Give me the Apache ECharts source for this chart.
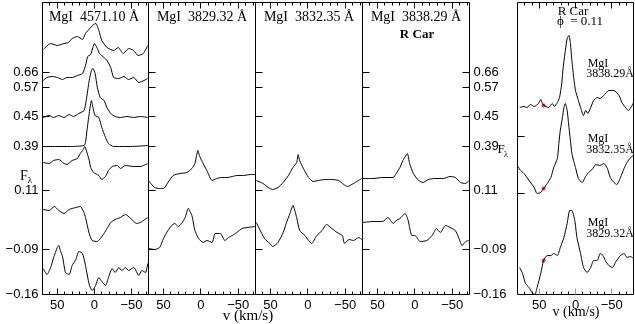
<!DOCTYPE html>
<html>
<head>
<meta charset="utf-8">
<script src="https://cdn.jsdelivr.net/npm/echarts@6/dist/echarts.min.js"></script>
<style>
  html, body { margin: 0; padding: 0; background: #fff; }
  #chart { width: 635px; height: 324px; }
</style>
</head>
<body>
<div id="chart"></div>
<script>
  // phase labels on the flux axis and where each sits (flux offset units)
  const phaseLabels = ['0.66', '0.57', '0.45', '0.39', '0.11', '−0.09', '−0.16'];
  const phaseTicks = [222, 207, 178, 148, 104, 45, 0];
  const rcarTicks = [158, 101];
  const vLabels = [50, 0, -50];
  const vTicks = [-70, -60, -50, -40, -30, -20, -10, 0, 10, 20, 30, 40, 50, 60, 70];

  // MgI 4571.10 A, one profile per phase  [v (km/s), F]
  const m4571_066 = [[69,245],[59,251],[50,249],[41,251],[35,252],[30,256],[23,258],[16,255],[12,261],[5,267],[1,270],[-2,271],[-6,264],[-10,254],[-17,247],[-26,244],[-32,247],[-39,241],[-46,246],[-53,244],[-59,239],[-66,241],[-72,249]];
  const m4571_057 = [[69,214],[64,217],[57,218],[50,217],[43,215],[37,217],[30,217],[23,219],[16,221],[12,229],[9,238],[5,240],[2,247],[0,251],[-4,246],[-7,241],[-13,237],[-17,234],[-22,227],[-26,217],[-33,216],[-40,218],[-46,215],[-53,217],[-60,212],[-67,214],[-72,216]];
  const m4571_045 = [[69,177],[61,179],[55,177],[48,179],[41,177],[34,180],[28,178],[21,181],[14,184],[11,194],[7,214],[4,224],[2,226],[-1,221],[-4,207],[-8,197],[-13,194],[-17,187],[-22,181],[-28,178],[-35,177],[-44,178],[-53,177],[-62,178],[-72,177]];
  const m4571_039 = [[69,148],[52,148],[32,148],[14,149],[12,152],[10,164],[7,181],[5,191],[4,194],[2,187],[-1,179],[-6,177],[-10,167],[-15,157],[-19,151],[-26,148],[-49,148],[-72,149]];
  const m4571_011 = [[69,132],[61,131],[55,134],[48,135],[41,131],[37,130],[30,134],[23,136],[19,141],[15,145],[13,148],[10,142],[7,134],[5,127],[1,122],[-6,119],[-10,115],[-15,118],[-19,124],[-24,128],[-31,129],[-35,126],[-42,129],[-53,128],[-62,128],[-72,131]];
  const m4571_m009 = [[69,85],[61,84],[54,88],[48,84],[41,81],[34,85],[25,87],[19,88],[14,82],[12,77],[7,61],[3,54],[-4,53],[-8,56],[-13,61],[-17,66],[-22,72],[-28,75],[-35,77],[-42,80],[-49,76],[-57,71],[-62,72],[-72,77]];
  const m4571_m016 = [[69,26],[64,20],[59,27],[55,37],[50,47],[48,49],[46,44],[43,38],[39,22],[34,20],[30,29],[25,35],[21,43],[16,41],[12,29],[7,10],[3,4],[-1,8],[-6,17],[-10,13],[-15,9],[-19,17],[-24,26],[-28,22],[-33,27],[-37,24],[-42,27],[-46,24],[-53,27],[-60,19],[-64,24],[-69,22],[-72,31]];

  // MgI 3829.32, 3832.35, 3838.29 A at phases 0.11 and -0.09
  const m3829_011 = [[70,114],[62,107],[55,106],[50,106],[44,112],[37,119],[28,121],[19,122],[12,126],[8,131],[6,138],[4,144],[2,139],[-1,134],[-8,124],[-15,114],[-21,116],[-28,117],[-35,117],[-42,118],[-48,119],[-57,119],[-66,120],[-73,120]];
  const m3829_m009 = [[70,46],[62,45],[55,47],[50,56],[44,64],[39,69],[35,71],[30,68],[26,71],[21,77],[17,86],[12,79],[8,64],[3,56],[-3,52],[-8,54],[-15,52],[-19,61],[-26,61],[-32,54],[-37,57],[-42,59],[-48,62],[-55,66],[-62,67],[-73,68]];
  const m3832_011 = [[69,114],[60,111],[53,107],[47,105],[40,107],[33,112],[26,119],[20,127],[15,132],[13,140],[11,134],[6,126],[-1,117],[-7,113],[-14,114],[-23,115],[-32,115],[-41,114],[-48,110],[-53,108],[-61,111],[-72,116]];
  const m3832_m009 = [[69,72],[65,66],[58,56],[51,51],[47,48],[40,52],[33,62],[29,71],[24,81],[20,89],[15,77],[11,64],[4,59],[-1,54],[-5,51],[-12,59],[-19,64],[-25,70],[-32,66],[-39,62],[-46,59],[-49,51],[-55,55],[-61,54],[-68,57],[-72,55]];
  const m3838_011 = [[70,116],[56,116],[43,117],[29,117],[25,121],[20,127],[16,134],[12,139],[10,141],[7,131],[2,121],[-5,114],[-11,112],[-18,115],[-27,116],[-38,116],[-47,118],[-54,117],[-61,112],[-68,111],[-72,114]];
  const m3838_m009 = [[70,72],[56,73],[43,73],[36,77],[29,71],[25,74],[20,76],[13,81],[9,74],[4,59],[0,59],[-7,53],[-16,54],[-23,59],[-29,66],[-34,62],[-41,69],[-47,67],[-54,64],[-59,56],[-63,49],[-68,53],[-72,54]];

  // R Car, phase 0.11, right panel
  const rcar_3838 = [[77,187],[71,188],[67,187],[62,190],[57,188],[51,191],[48,195],[45,190],[41,188],[37,187],[32,191],[29,188],[25,192],[22,197],[19,211],[17,227],[14,244],[11.5,256],[9,259],[7,251],[5,234],[2,214],[0,204],[-4,194],[-7,187],[-11,179],[-14,184],[-17,181],[-21,187],[-25,194],[-30,197],[-34,196],[-39,199],[-46,204],[-53,204],[-60,199],[-64,192],[-69,187],[-73,184],[-78,189],[-80,192]];
  const rcar_3832 = [[79,128],[77,125],[71,121],[64,114],[57,107],[53,101],[48,102],[44,106],[39,111],[34,117],[30,127],[25,136],[23,151],[21,164],[18,177],[16,187],[14,191],[11.5,184],[9,167],[7,154],[5,141],[2,132],[0,127],[-4,116],[-9,112],[-14,118],[-18,122],[-23,125],[-28,130],[-34,129],[-39,131],[-44,126],[-48,117],[-53,112],[-57,110],[-62,117],[-67,126],[-71,132],[-76,137],[-80,139]];
  const rcar_3829 = [[77,27],[73,21],[69,11],[64,7],[60,2],[56,0],[53,7],[48,21],[44,34],[39,39],[34,39],[30,41],[25,39],[21,47],[16,57],[11.5,71],[8,84],[5,84],[1,74],[-2,57],[-7,41],[-11,27],[-16,22],[-21,27],[-25,34],[-30,34],[-34,41],[-38,39],[-41,34],[-46,29],[-51,27],[-55,32],[-62,39],[-67,41],[-71,37],[-76,38],[-80,36]];
  const rcarMarks = [[44,189],[44,106],[44,34]];

  const chart = echarts.init(document.getElementById('chart'));

  const panels = [
    { left: 42.5, width: 106, range: [-73, 70] },
    { left: 148.5, width: 107, range: [-73, 70] },
    { left: 255.5, width: 107, range: [-73, 70] },
    { left: 362.5, width: 107, range: [-73, 70] },
    { left: 517.5, width: 116, range: [-80, 80] }
  ];
  const fMax = 292;
  const minus = v => String(v).replace('-', '−');
  const sans = 'Liberation Sans';
  const serif = 'Liberation Serif';
  const phaseFmt = v => phaseLabels[phaseTicks.indexOf(v)];
  const noLine = { show: false, onZero: false };
  const snap = c => Math.round(c - 0.5) + 0.5;

  let grid = [];
  let xAxis = [];
  let yAxis = [];
  let mainY = [];
  let rightY = -1;

  panels.forEach((p, i) => {
    grid.push({ left: p.left, top: 2.5, width: p.width, height: fMax, show: true,
      borderColor: '#000', borderWidth: 1, backgroundColor: 'transparent' });
    xAxis.push({ gridIndex: i, type: 'value', inverse: true, min: p.range[0], max: p.range[1],
      position: 'bottom', axisLine: noLine, splitLine: { show: false }, axisTick: { show: false },
      axisLabel: { customValues: vLabels, formatter: minus, color: '#000', fontSize: 13, fontFamily: sans, margin: 4 } });
    mainY.push(yAxis.length);
    yAxis.push({ gridIndex: i, type: 'value', min: 0, max: fMax, position: 'left',
      axisLine: noLine, splitLine: { show: false }, axisTick: { show: false },
      axisLabel: i === 0 ? { customValues: phaseTicks, formatter: phaseFmt,
        color: '#000', fontSize: 13, fontFamily: sans, margin: 4 } : { show: false } });
    if (i === 3) {
      rightY = yAxis.length;
      yAxis.push({ gridIndex: i, type: 'value', min: 0, max: fMax, position: 'right',
        axisLine: noLine, splitLine: { show: false }, axisTick: { show: false },
        axisLabel: { customValues: phaseTicks, formatter: phaseFmt,
          color: '#000', fontSize: 13, fontFamily: sans, margin: 4 } });
    }
  });

  function profile(i, data) {
    return { type: 'line', xAxisIndex: i, yAxisIndex: mainY[i], data: data, showSymbol: false,
      smooth: 0.2, silent: true, lineStyle: { color: '#000', width: 1 } };
  }

  function seg(x1, y1, x2, y2, color) {
    return { type: 'line', shape: { x1: x1, y1: y1, x2: x2, y2: y2 }, style: { stroke: color || '#000', lineWidth: 1 } };
  }

  // velocity ticks on the top and bottom frame of a panel, placed by the axis scale
  function vTickSeries(i) {
    const bottomMajor = i === 4 ? '#999' : '#000';
    return { type: 'custom', xAxisIndex: i, yAxisIndex: mainY[i], silent: true, clip: false, z: 3,
      data: vTicks.map(v => [v, 0]),
      renderItem: function (params, api) {
        const v = api.value(0);
        const major = v % 50 === 0;
        const len = major ? 6 : 3;
        const b = api.coord([v, 0]);
        const t = api.coord([v, fMax]);
        const x = snap(b[0]);
        return { type: 'group', children: [
          seg(x, b[1], x, b[1] - len, major ? bottomMajor : '#000'),
          seg(x, t[1], x, t[1] + len)
        ] };
      } };
  }

  // flux ticks pointing into a panel from its left (or right) edge
  function fTickSeries(i, values, rightEdge) {
    const p = panels[i];
    const edge = rightEdge ? p.range[0] : p.range[1];
    return { type: 'custom', xAxisIndex: i, yAxisIndex: mainY[i], silent: true, clip: false, z: 3,
      data: values.map(f => [edge, f]),
      renderItem: function (params, api) {
        const c = api.coord([api.value(0), api.value(1)]);
        const y = snap(c[1]);
        return seg(c[0], y, c[0] + (rightEdge ? -7 : 7), y);
      } };
  }

  let series = [
    profile(0, m4571_066), profile(0, m4571_057), profile(0, m4571_045), profile(0, m4571_039),
    profile(0, m4571_011), profile(0, m4571_m009), profile(0, m4571_m016),
    profile(1, m3829_011), profile(1, m3829_m009),
    profile(2, m3832_011), profile(2, m3832_m009),
    profile(3, m3838_011), profile(3, m3838_m009),
    profile(4, rcar_3838), profile(4, rcar_3832), profile(4, rcar_3829),
    { type: 'scatter', xAxisIndex: 4, yAxisIndex: mainY[4], data: rcarMarks, symbol: 'circle', symbolSize: 4,
      itemStyle: { color: '#ff0000' }, silent: true }
  ];
  panels.forEach((p, i) => {
    series.push(vTickSeries(i));
    series.push(fTickSeries(i, i < 4 ? phaseTicks : rcarTicks, false));
  });
  series.push(fTickSeries(3, phaseTicks, true));

  function txt(x, y, text, font, align) {
    return { type: 'text', x: x, y: y, silent: true,
      style: { text: text, font: font, fill: '#000', textAlign: align || 'center', textVerticalAlign: 'middle' } };
  }

  const graphic = [
    txt(94, 17, 'MgI  4571.10 Å', '14px "' + serif + '"'),
    txt(202, 17, 'MgI  3829.32 Å', '14px "' + serif + '"'),
    txt(309, 17, 'MgI  3832.35 Å', '14px "' + serif + '"'),
    txt(416, 17, 'MgI  3838.29 Å', '14px "' + serif + '"'),
    txt(417, 35, 'R Car', 'bold 13px "' + serif + '"'),
    txt(24, 176, 'F', '14px "' + serif + '"'),
    txt(30, 181, 'λ', '9px "' + serif + '"'),
    txt(501, 150, 'F', '13px "' + serif + '"'),
    txt(506, 155, 'λ', '8px "' + serif + '"'),
    txt(248, 316, 'v (km/s)', '15px "' + serif + '"'),
    txt(576, 312, 'v (km/s)', '14px "' + serif + '"'),
    txt(573, 12, 'R Car', '13px "' + serif + '"'),
    txt(580, 22, 'ϕ  = 0.11', '13px "' + serif + '"'),
    txt(598, 64, 'MgI', '12px "' + serif + '"'),
    txt(634, 74, '3838.29Å', '12px "' + serif + '"', 'right'),
    txt(598, 139, 'MgI', '12px "' + serif + '"'),
    txt(634, 150, '3832.35Å', '12px "' + serif + '"', 'right'),
    txt(598, 223, 'MgI', '12px "' + serif + '"'),
    txt(634, 234, '3829.32Å', '12px "' + serif + '"', 'right')
  ];

  const option = {
    animation: false,
    backgroundColor: '#fff',
    grid: grid,
    xAxis: xAxis,
    yAxis: yAxis,
    series: series,
    graphic: graphic
  };

  chart.setOption(option);
  window.addEventListener('resize', function () {
    chart.resize();
  });
</script>
</body>
</html>
